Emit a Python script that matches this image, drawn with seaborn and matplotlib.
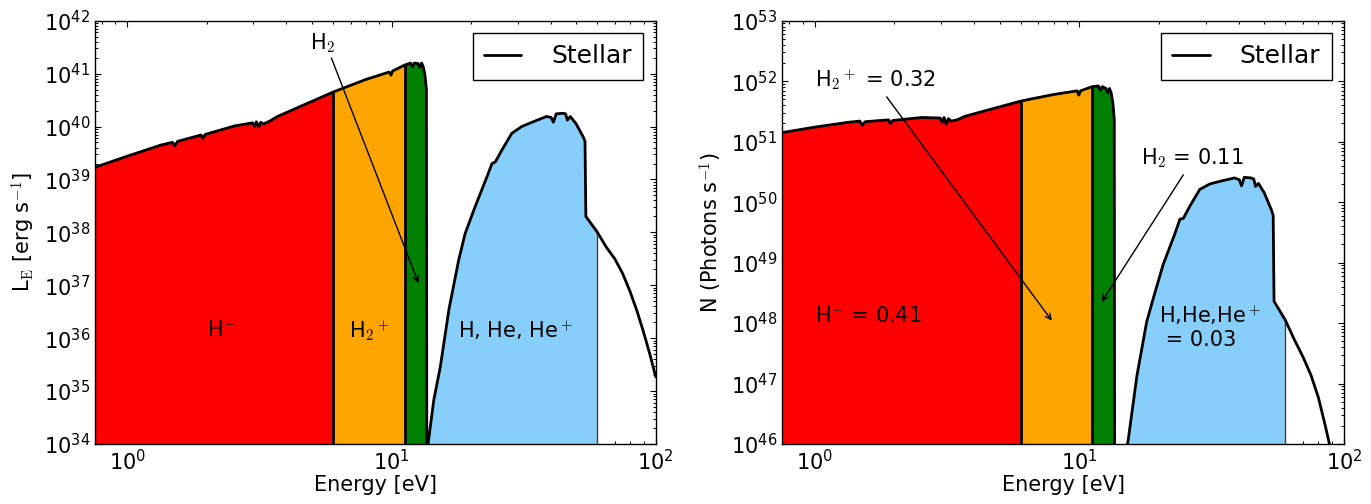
import numpy as np
import pandas as pd
import matplotlib
matplotlib.use("Agg")
import matplotlib.pyplot as plt
import seaborn as sns
from matplotlib.ticker import LogLocator, NullFormatter, FixedLocator

# ---------------- data ----------------
energy_ev = [0.754, 1.0, 1.34, 1.48, 1.51, 1.55, 1.90, 1.93, 1.97, 2.54,
             2.98, 3.03, 3.08, 3.14, 3.20, 3.28, 3.45, 3.70, 6.00, 8.00,
             9.80, 9.95, 10.10, 11.20, 11.80, 12.00, 12.20, 12.60, 12.80, 13.00,
             13.20, 13.40, 13.55, 13.60, 13.75, 14.45, 15.30, 16.50, 17.96, 19.00,
             20.70, 22.97, 24.00, 24.70, 26.20, 28.50, 31.10, 34.40, 38.60, 40.20,
             41.00, 42.00, 44.60, 45.60, 46.30, 47.50, 50.00, 53.20, 54.00, 54.40,
             60.00, 65.00, 70.00, 75.00, 80.00, 85.00, 90.00, 95.00, 100.0]
# log10 of L_E [erg s^-1]
log_lum = [39.23, 39.44, 39.65, 39.70, 39.64, 39.72, 39.84, 39.78, 39.85, 40.01,
           40.07, 40.00, 40.09, 39.99, 40.08, 40.05, 40.10, 40.19, 40.65, 40.89,
           41.03, 40.97, 41.05, 41.16, 41.20, 41.13, 41.20, 41.19, 41.12, 41.20,
           41.12, 40.95, 40.70, 33.00, 34.00, 34.83, 35.46, 36.55, 37.48, 37.98,
           38.48, 39.05, 39.30, 39.33, 39.56, 39.87, 40.00, 40.09, 40.19, 40.17,
           40.08, 40.24, 40.25, 40.24, 40.12, 40.19, 40.05, 39.80, 39.72, 38.30,
           38.01, 37.72, 37.50, 37.22, 36.88, 36.51, 36.11, 35.70, 35.27]
# log10 of N [photons s^-1]
log_phot = [51.15, 51.24, 51.32, 51.34, 51.27, 51.33, 51.36, 51.30, 51.35, 51.40,
            51.39, 51.32, 51.40, 51.29, 51.38, 51.34, 51.36, 51.42, 51.67, 51.78,
            51.84, 51.77, 51.84, 51.91, 51.92, 51.85, 51.91, 51.88, 51.81, 51.88,
            51.80, 51.62, 51.36, 43.66, 44.66, 45.47, 46.07, 47.13, 48.02, 48.40,
            48.96, 49.48, 49.72, 49.73, 49.94, 50.21, 50.30, 50.35, 50.40, 50.37,
            50.27, 50.41, 50.40, 50.38, 50.26, 50.31, 50.15, 49.87, 49.78, 48.36,
            48.05, 47.72, 47.44, 47.14, 46.77, 46.30, 45.82, 45.35, 44.90]

band_edges = [0.754, 6.0, 11.2, 13.6, 60.0]
band_colors = ["#ff0000", "#ffa500", "#008000", "#87cefa"]

left_labels = ["H$^{-}$", "H$_2$$^+$", "H, He, He$^+$"]
left_label_energy = [2.26, 8.26, 29.6]
right_labels = ["H$^{-}$ = 0.41", "H$_2$$^+$ = 0.32", "H$_2$ = 0.11", "H,He,He$^+$\n = 0.03"]

x_minor_ticks = [0.8, 0.9] + list(range(2, 10)) + list(range(20, 100, 10))

# ---------------- style ----------------
sns.set_style("ticks")
plt.rcParams.update({
    "font.family": ["DejaVu Sans"],
    "mathtext.fontset": "cm",
    "text.color": "black", "axes.labelcolor": "black",
    "xtick.direction": "in", "ytick.direction": "in",
    "xtick.top": True, "ytick.right": True,
    "axes.edgecolor": "black", "axes.linewidth": 1.0,
    "xtick.color": "black", "ytick.color": "black",
    "xtick.labelcolor": "black", "ytick.labelcolor": "black",
    "xtick.major.size": 4.5, "ytick.major.size": 4.5,
    "xtick.minor.size": 2.5, "ytick.minor.size": 2.5,
    "xtick.major.width": 0.8, "ytick.major.width": 0.8,
    "xtick.minor.width": 0.7, "ytick.minor.width": 0.7,
    "xtick.minor.visible": True, "ytick.minor.visible": True,
})

df = pd.DataFrame({"Energy": energy_ev,
                   "L": 10.0 ** np.array(log_lum),
                   "N": 10.0 ** np.array(log_phot)})

fig = plt.figure(figsize=(13.71, 5.04), dpi=100)
axL = fig.add_axes([95 / 1371, 60 / 504, 560.7 / 1371, 423.3 / 504])
axR = fig.add_axes([782.3 / 1371, 60 / 504, 561.7 / 1371, 423.3 / 504])


def draw_panel(ax, col, ybot, ytop, ylabel):
    E = df["Energy"].to_numpy()
    Y = df[col].to_numpy()
    for (lo, hi), c in zip(zip(band_edges[:-1], band_edges[1:]), band_colors):
        m = (E >= lo) & (E <= hi)
        ax.fill_between(E[m], ybot, Y[m], color=c, lw=0, zorder=1)
    for e in band_edges[1:3]:
        ax.vlines(e, ybot, Y[E == e][0], color="black", lw=2, zorder=3)
    ax.vlines(band_edges[4], ybot, Y[E == band_edges[4]][0], color="0.25", lw=1, zorder=3)
    sns.lineplot(data=df, x="Energy", y=col, ax=ax, color="black", lw=2,
                 sort=False, estimator=None, label="Stellar", zorder=5)
    ax.set_xscale("log")
    ax.set_yscale("log")
    ax.set_xlim(0.754, 100)
    ax.set_ylim(ybot, ytop)
    ax.yaxis.set_major_locator(LogLocator(base=10, numticks=30))
    ax.yaxis.set_minor_locator(LogLocator(base=10, subs=np.arange(2, 10), numticks=300))
    ax.yaxis.set_minor_formatter(NullFormatter())
    ax.xaxis.set_minor_locator(FixedLocator(x_minor_ticks))
    ax.xaxis.set_minor_formatter(NullFormatter())
    ax.tick_params(which="both", direction="in", top=True, right=True, labelsize=15,
                   colors="black")
    ax.tick_params(which="minor", labelbottom=False, labelleft=False,
                   labeltop=False, labelright=False)
    ax.set_xlabel("Energy [eV]", fontsize=15, labelpad=1, color="black")
    ax.set_ylabel(ylabel, fontsize=15, color="black")
    leg = ax.legend(loc="upper right", fontsize=18, frameon=True, fancybox=False,
                    framealpha=1, edgecolor="black", handlelength=1.5,
                    handletextpad=1.2, borderaxespad=0.5, borderpad=0.45)
    leg.get_frame().set_linewidth(1.0)
    for t in leg.get_texts():
        t.set_color("black")
    for sp in ax.spines.values():
        sp.set_visible(True)
        sp.set_zorder(10)


draw_panel(axL, "L", 1e34, 1e42, "L$_{\\rm E}$ [erg s$^{-1}$]")
draw_panel(axR, "N", 1e46, 1e53, "N (Photons s$^{-1}$)")

arrow_kw = dict(arrowstyle="->", color="black", lw=1, shrinkA=0, shrinkB=0)

# left panel annotations
axL.annotate("", xy=(12.65, 10 ** 37.04), xytext=(5.92, 10 ** 41.295),
             arrowprops=arrow_kw, zorder=6)
axL.text(5.49, 10 ** 41.58, "H$_2$", fontsize=15, ha="center", va="center", zorder=6)
for lab, e in zip(left_labels, left_label_energy):
    axL.text(e, 10 ** 36.15, lab, fontsize=15, ha="center", va="center", zorder=6)

# right panel annotations
axR.annotate("", xy=(7.87, 10 ** 48.04), xytext=(1.87, 10 ** 51.74),
             arrowprops=arrow_kw, zorder=6)
axR.annotate("", xy=(12.15, 10 ** 48.35), xytext=(24.7, 10 ** 50.45),
             arrowprops=arrow_kw, zorder=6)
axR.text(1.0, 10 ** 48.12, right_labels[0], fontsize=15, ha="left", va="center", zorder=6)
axR.text(1.0, 10 ** 52.03, right_labels[1], fontsize=15, ha="left", va="center", zorder=6)
axR.text(17.06, 10 ** 50.73, right_labels[2], fontsize=15, ha="left", va="center", zorder=6)
axR.text(20.06, 10 ** 47.93, right_labels[3], fontsize=15, ha="left", va="center",
         multialignment="left", linespacing=1.2, zorder=6)

fig.savefig("out.png", dpi=100)
